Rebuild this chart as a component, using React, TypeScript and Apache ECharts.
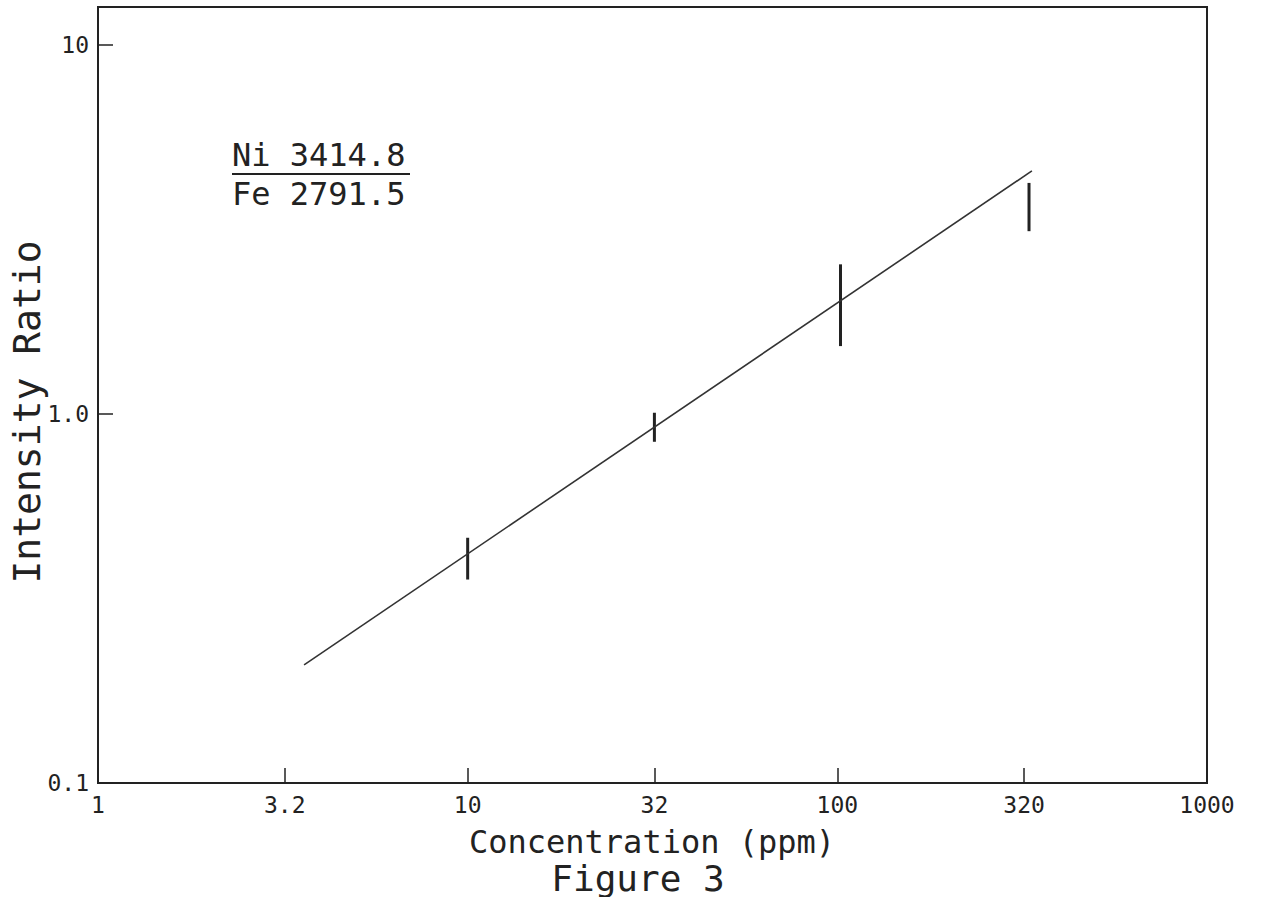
import React, { useEffect, useRef } from "react";
import * as echarts from "echarts";

// Axis ticks (data units)
const xTickValues = [1, 3.2, 10, 32, 100, 320, 1000];
const xTickLabels = ["1", "3.2", "10", "32", "100", "320", "1000"];
const yTickValues = [0.1, 1.0, 10];
const yTickLabels = ["0.1", "1.0", "10"];

// Calibration line end points (concentration ppm, intensity ratio)
const fitConc = [3.61, 336];
const fitRatio = [0.209, 4.56];

// Measured points: concentration, low and high intensity ratio of each bar
const barConc = [10, 32, 102, 330];
const barLow = [0.356, 0.841, 1.528, 3.13];
const barHigh = [0.462, 1.008, 2.545, 4.23];

const xMinVal = 1;
const xMaxVal = 1000;
const yMinVal = 0.1;
const yMaxVal = 12.68;

const L = Math.log10;
const FONT = "'DejaVu Sans Mono', monospace";
const INK = "#222";

function labelFor(values: number[], labels: string[], v: number) {
  for (let i = 0; i < values.length; i++) {
    if (Math.abs(L(values[i]) - v) < 1e-6) return labels[i];
  }
  return "";
}

export default function App() {
  const ref = useRef<HTMLDivElement>(null);
  useEffect(() => {
    if (!ref.current) return;
    const chart = echarts.init(ref.current, null, { renderer: "svg" });
    const fitData = fitConc.map((c, i) => [L(c), L(fitRatio[i])]);
    const barData = barConc.map((c, i) => [L(c), L(barLow[i]), L(barHigh[i])]);
    chart.setOption({
      animation: false,
      backgroundColor: "#fff",
      grid: {
        left: 98,
        right: 55,
        top: 7,
        bottom: 114,
        show: true,
        borderColor: INK,
        borderWidth: 2,
        backgroundColor: "transparent",
      },
      xAxis: {
        type: "value",
        min: L(xMinVal),
        max: L(xMaxVal),
        interval: 0.5,
        axisLine: { show: true, onZero: false, lineStyle: { color: INK, width: 2 } },
        axisTick: {
          show: true,
          inside: true,
          length: 15,
          lineStyle: { color: INK, width: 1.5 },
          customValues: xTickValues.map(L),
        },
        axisLabel: {
          show: true,
          margin: 10,
          color: INK,
          fontFamily: FONT,
          fontSize: 23,
          customValues: xTickValues.map(L),
          formatter: (v: number) => labelFor(xTickValues, xTickLabels, v),
        },
        splitLine: { show: false },
      },
      yAxis: {
        type: "value",
        min: L(yMinVal),
        max: L(yMaxVal),
        interval: 1,
        axisLine: { show: true, onZero: false, lineStyle: { color: INK, width: 2 } },
        axisTick: {
          show: true,
          inside: true,
          length: 15,
          lineStyle: { color: INK, width: 1.5 },
          customValues: yTickValues.map(L),
        },
        axisLabel: {
          show: true,
          margin: 9,
          color: INK,
          fontFamily: FONT,
          fontSize: 23,
          customValues: yTickValues.map(L),
          formatter: (v: number) => labelFor(yTickValues, yTickLabels, v),
        },
        splitLine: { show: false },
      },
      series: [
        {
          type: "line",
          data: fitData,
          symbol: "none",
          lineStyle: { color: "#333", width: 1.6 },
          silent: true,
        },
        {
          type: "custom",
          data: barData,
          encode: { x: 0, y: [1, 2] },
          renderItem: (params: any, api: any) => {
            const x = api.value(0);
            const p1 = api.coord([x, api.value(1)]);
            const p2 = api.coord([x, api.value(2)]);
            return {
              type: "line",
              shape: { x1: p1[0], y1: p1[1], x2: p2[0], y2: p2[1] },
              style: { stroke: INK, lineWidth: 3 },
            };
          },
          silent: true,
        },
      ],
      graphic: [
        {
          type: "text",
          x: 232,
          y: 155,
          style: {
            text: "Ni 3414.8",
            font: `32px ${FONT}`,
            fill: INK,
            align: "left",
            verticalAlign: "middle",
          },
        },
        {
          type: "line",
          shape: { x1: 232, y1: 174, x2: 410, y2: 174 },
          style: { stroke: INK, lineWidth: 2 },
        },
        {
          type: "text",
          x: 232,
          y: 194,
          style: {
            text: "Fe 2791.5",
            font: `32px ${FONT}`,
            fill: INK,
            align: "left",
            verticalAlign: "middle",
          },
        },
        {
          type: "text",
          x: 652,
          y: 842,
          style: {
            text: "Concentration (ppm)",
            font: `32px ${FONT}`,
            fill: INK,
            align: "center",
            verticalAlign: "middle",
          },
        },
        {
          type: "text",
          x: 638,
          y: 878,
          style: {
            text: "Figure 3",
            font: `36px ${FONT}`,
            fill: INK,
            align: "center",
            verticalAlign: "middle",
          },
        },
        {
          type: "text",
          x: 27,
          y: 412,
          rotation: Math.PI / 2,
          style: {
            text: "Intensity Ratio",
            font: `38px ${FONT}`,
            fill: INK,
            align: "center",
            verticalAlign: "middle",
          },
        },
      ],
    });
    return () => chart.dispose();
  }, []);
  return (
    <div
      ref={ref}
      style={{ position: "fixed", left: 0, top: 0, width: 1262, height: 897, background: "#fff" }}
    />
  );
}
